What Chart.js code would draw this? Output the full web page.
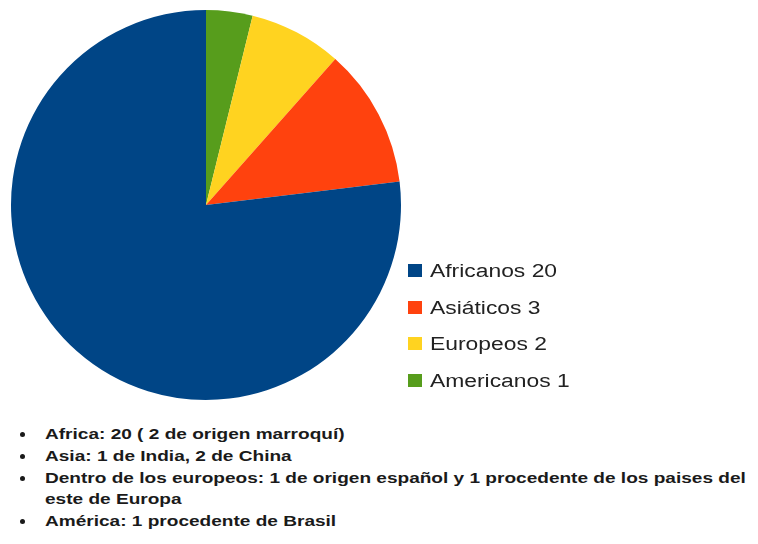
<!DOCTYPE html>
<html>
<head>
<meta charset="utf-8">
<script src="https://cdn.jsdelivr.net/npm/chart.js@4/dist/chart.umd.min.js"></script>
<style>
  body { margin: 0; background: #fff; width: 758px; height: 544px; overflow: hidden; position: relative; font-family: "Liberation Sans", Arial, sans-serif; }
  #pie-wrap { position: absolute; left: 1px; top: 0; width: 410px; height: 410px; }
  #legend { position: absolute; left: 408px; top: 258px; margin: 0; padding: 0; list-style: none; }
  #legend li { height: 36.7px; line-height: 26px; font-size: 18px; color: #222; white-space: nowrap; }
  #legend span.box { display: inline-block; width: 14px; height: 13px; margin-right: 8px; vertical-align: 0px; }
  #legend span.txt { display: inline-block; transform: scaleX(1.27); transform-origin: left center; }
  #notes { position: absolute; left: 0; top: 423px; margin: 0; padding: 0 0 0 45px; font-weight: bold; font-size: 15px; color: #1a1a1a; line-height: 21.8px; white-space: nowrap; }
  #notes li { list-style: none; position: relative; }
  #notes li span { display: inline-block; transform: scaleX(1.27); transform-origin: left center; }
  #notes li::before { content: ""; position: absolute; left: -25px; top: 9px; width: 5px; height: 5px; background: #1a1a1a; border-radius: 50%; }
</style>
</head>
<body>
<div id="pie-wrap"><canvas id="pie-chartcanvas"></canvas></div>
<ul id="legend"></ul>
<ul id="notes">
  <li><span>Africa: 20 ( 2 de origen marroquí)</span></li>
  <li><span>Asia: 1 de India, 2 de China</span></li>
  <li><span>Dentro de los europeos: 1 de origen español y 1 procedente de los paises del<br>este de Europa</span></li>
  <li><span>América: 1 procedente de Brasil</span></li>
</ul>
<script>
var labels = ["Africanos", "Asiáticos", "Europeos", "Americanos"];
var values = [20, 3, 2, 1];
var colors = ["#004586", "#ff420e", "#ffd320", "#579d1c"];

// slices run counter-clockwise from the top, so feed them to the chart reversed
var pieLabels = labels.slice().reverse();
var pieValues = values.slice().reverse();
var pieColors = colors.slice().reverse();

var ctx = document.getElementById("pie-chartcanvas");

var chart = new Chart(ctx, {
	type : "pie",
	data : {
		labels : pieLabels,
		datasets : [
			{
				label : "origen",
				data : pieValues,
				backgroundColor : pieColors,
				borderWidth : 0
			}
		]
	},
	options : {
		responsive : true,
		maintainAspectRatio : false,
		animation : false,
		layout : { padding : 10 },
		plugins : {
			legend : { display : false },
			tooltip : { enabled : false }
		}
	}
});

// legend in the original order, next to the pie
var legend = document.getElementById("legend");
labels.forEach(function (name, i) {
	var li = document.createElement("li");
	var box = document.createElement("span");
	box.className = "box";
	box.style.background = colors[i];
	var txt = document.createElement("span");
	txt.className = "txt";
	txt.textContent = name + " " + values[i];
	li.appendChild(box);
	li.appendChild(txt);
	legend.appendChild(li);
});
</script>
</body>
</html>
